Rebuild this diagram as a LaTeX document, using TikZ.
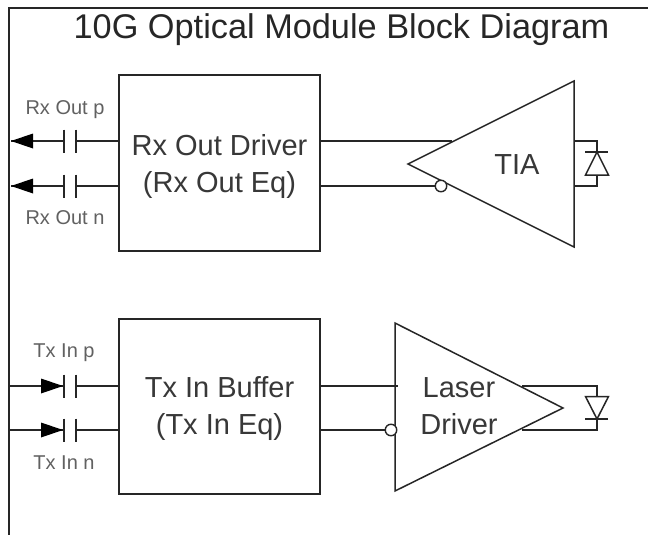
\documentclass[tikz,border=0pt]{standalone}
\usepackage{fontspec}
\setmainfont{Liberation Sans}
\begin{document}
\begin{tikzpicture}[x=1pt,y=-1pt,line join=miter,
  wire/.style={draw=black!85,line width=1.5pt},
  block/.style={draw=black!85,line width=1.5pt,fill=white,rectangle,inner sep=0pt},
  amp/.style={draw=black!85,line width=1.5pt},
  bubble/.style={circle,draw=black!85,line width=1.4pt,fill=white,minimum size=11.5pt,inner sep=0pt},
  portlabel/.style={inner sep=0pt,font=\fontsize{20}{24}\selectfont,text=black!62},
  biglabel/.style={inner sep=0pt,align=center,text=black!78,font=\fontsize{29}{37}\selectfont},
  head/.style={fill=black,draw=none}]
\useasboundingbox (0,0) rectangle (648,535);
\fill[white] (0,0) rectangle (648,535);
\coordinate (frameTL) at (9,8);
\coordinate (frameTR) at (648,8);
\coordinate (frameBL) at (9,535);
\draw[wire] (frameTR) -- (frameTL) -- (frameBL);
\node[inner sep=0pt,text=black!85,font=\fontsize{34.3}{38}\selectfont] (title) at (341.5,30) {10G Optical Module Block Diagram};
% blocks
\node[block,minimum width=201pt,minimum height=176pt] (rxbox) at (219.5,163) {};
\node[block,minimum width=201pt,minimum height=175pt] (txbox) at (219.5,406.5) {};
\node[biglabel] (rxtext) at (219.5,166.5) {Rx Out Driver\\(Rx Out Eq)};
\node[biglabel] (txtext) at (219.5,408.5) {Tx In Buffer\\(Tx In Eq)};
% wire coordinates
\coordinate (rxPr) at (320,141); \coordinate (rxNr) at (320,186);
\coordinate (txPr) at (320,386); \coordinate (txNr) at (320,430);
\coordinate (rxPl) at (119,141); \coordinate (rxNl) at (119,186);
\coordinate (txPl) at (119,386); \coordinate (txNl) at (119,430);
\coordinate (rxPcR) at (76,141); \coordinate (rxPcL) at (64,141);
\coordinate (rxNcR) at (76,186); \coordinate (rxNcL) at (64,186);
\coordinate (txPcR) at (76,386); \coordinate (txPcL) at (64,386);
\coordinate (txNcR) at (76,430); \coordinate (txNcL) at (64,430);
\coordinate (rxPend) at (11,141); \coordinate (rxNend) at (11,186);
\coordinate (txPend) at (9,386); \coordinate (txNend) at (9,430);
% Rx side
\draw[wire] (rxPl) -- (rxPcR); \draw[wire] (rxNl) -- (rxNcR);
\draw[wire] (rxPcL) -- (rxPend); \draw[wire] (rxNcL) -- (rxNend);
\foreach \y in {141,186}{
  \draw[wire] (64,\y-11.5) -- (64,\y+11.5);
  \draw[wire] (76,\y-11.5) -- (76,\y+11.5);
  \fill[head] (11,\y) -- (33,\y-7.5) -- (33,\y+7.5) -- cycle;
}
% Tx side
\draw[wire] (txPl) -- (txPcR); \draw[wire] (txNl) -- (txNcR);
\draw[wire] (txPcL) -- (txPend); \draw[wire] (txNcL) -- (txNend);
\foreach \y in {386,430}{
  \draw[wire] (64,\y-11.5) -- (64,\y+11.5);
  \draw[wire] (76,\y-11.5) -- (76,\y+11.5);
  \fill[head] (63,\y) -- (41,\y-7.5) -- (41,\y+7.5) -- cycle;
}
\node[portlabel] (lblRxP) at (65,110) {Rx Out p};
\node[portlabel] (lblRxN) at (65,218) {Rx Out n};
\node[portlabel] (lblTxP) at (64,353) {Tx In p};
\node[portlabel] (lblTxN) at (64,463) {Tx In n};
% TIA
\coordinate (tiaTip) at (408,164); \coordinate (tiaT) at (574,81); \coordinate (tiaB) at (574,247);
\coordinate (tiaInP) at (452,141); \coordinate (tiaInN) at (436,186);
\draw[wire] (rxPr) -- (tiaInP);
\draw[wire] (rxNr) -- (tiaInN);
\draw[amp] (tiaTip) -- (tiaT) -- (tiaB) -- cycle;
\node[bubble] (tiaBub) at (441,186) {};
\node[biglabel] (tia) at (517,165) {TIA};
% photodiode
\coordinate (pdT) at (574,141); \coordinate (pdB) at (574,186);
\draw[wire] (pdT) -- (597,141) -- (597,152);
\draw[wire] (pdB) -- (597,186) -- (597,175);
\draw[wire] (585,152) -- (608,152);
\draw[wire] (597,152) -- (585.5,175) -- (608.5,175) -- cycle;
% Laser driver
\coordinate (ldTip) at (563,408); \coordinate (ldT) at (395,323); \coordinate (ldB) at (395,491);
\coordinate (ldInP) at (398,386); \coordinate (ldInN) at (385,430);
\coordinate (ldOutP) at (522,386); \coordinate (ldOutN) at (522,430);
\draw[wire] (txPr) -- (ldInP);
\draw[wire] (txNr) -- (ldInN);
\draw[amp] (ldTip) -- (ldT) -- (ldB) -- cycle;
\node[bubble] (ldBub) at (391,430) {};
\node[biglabel] (ld) at (459,406.5) {Laser\\Driver};
% laser diode
\draw[wire] (ldOutP) -- (597,386) -- (597,396);
\draw[wire] (ldOutN) -- (597,430) -- (597,419);
\draw[wire] (585.5,396.5) -- (608.5,396.5) -- (597,419) -- cycle;
\draw[wire] (585,419) -- (608,419);
\end{tikzpicture}
\end{document}
